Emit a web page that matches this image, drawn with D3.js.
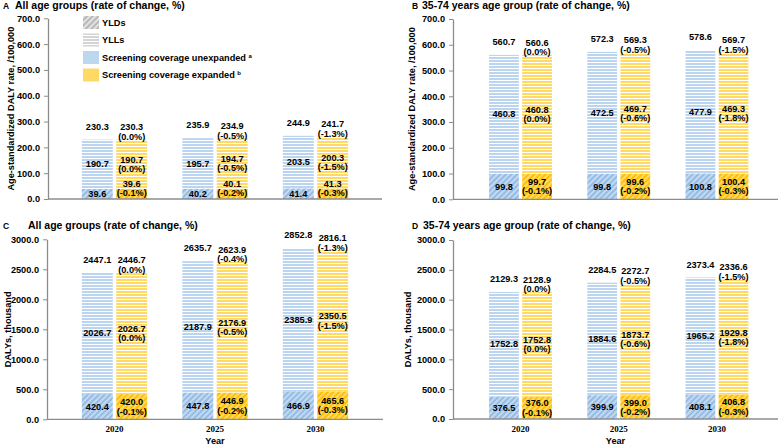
<!DOCTYPE html>
<html><head><meta charset="utf-8">
<script src="https://cdn.jsdelivr.net/npm/d3@7"></script>
<style>
body{margin:0;background:#fff;}
svg text{font-family:"Liberation Sans",Arial,sans-serif;font-weight:bold;fill:#000;}
</style></head>
<body><svg id="c" width="783" height="447"></svg>
<script>
const years = ['2020','2025','2030'];

// Panel A: age-standardized DALY rate, all ages
const aUnexpTotal = [230.3, 235.9, 244.9];
const aUnexpYLL   = [190.7, 195.7, 203.5];
const aUnexpYLD   = [39.6, 40.2, 41.4];
const aExpTotal   = [230.3, 234.9, 241.7];
const aExpTotalPct= [0.0, -0.5, -1.3];
const aExpYLL     = [190.7, 194.7, 200.3];
const aExpYLLPct  = [0.0, -0.5, -1.5];
const aExpYLD     = [39.6, 40.1, 41.3];
const aExpYLDPct  = [-0.1, -0.2, -0.3];

// Panel B: age-standardized DALY rate, 35-74
const bUnexpTotal = [560.7, 572.3, 578.6];
const bUnexpYLL   = [460.8, 472.5, 477.9];
const bUnexpYLD   = [99.8, 99.8, 100.8];
const bExpTotal   = [560.6, 569.3, 569.7];
const bExpTotalPct= [0.0, -0.5, -1.5];
const bExpYLL     = [460.8, 469.7, 469.3];
const bExpYLLPct  = [0.0, -0.6, -1.8];
const bExpYLD     = [99.7, 99.6, 100.4];
const bExpYLDPct  = [-0.1, -0.2, -0.3];

// Panel C: DALYs (thousand), all ages
const cUnexpTotal = [2447.1, 2635.7, 2852.8];
const cUnexpYLL   = [2026.7, 2187.9, 2385.9];
const cUnexpYLD   = [420.4, 447.8, 466.9];
const cExpTotal   = [2446.7, 2623.9, 2816.1];
const cExpTotalPct= [0.0, -0.4, -1.3];
const cExpYLL     = [2026.7, 2176.9, 2350.5];
const cExpYLLPct  = [0.0, -0.5, -1.5];
const cExpYLD     = [420.0, 446.9, 465.6];
const cExpYLDPct  = [-0.1, -0.2, -0.3];

// Panel D: DALYs (thousand), 35-74
const dUnexpTotal = [2129.3, 2284.5, 2373.4];
const dUnexpYLL   = [1752.8, 1884.6, 1965.2];
const dUnexpYLD   = [376.5, 399.9, 408.1];
const dExpTotal   = [2128.9, 2272.7, 2336.6];
const dExpTotalPct= [0.0, -0.5, -1.5];
const dExpYLL     = [1752.8, 1873.7, 1929.8];
const dExpYLLPct  = [0.0, -0.6, -1.8];
const dExpYLD     = [376.0, 399.0, 406.8];
const dExpYLDPct  = [-0.1, -0.2, -0.3];

const rateTicks  = [0,100,200,300,400,500,600,700];
const countTicks = [0,500,1000,1500,2000,2500,3000];

const svg = d3.select('#c');
const defs = svg.append('defs');

function hPattern(id, base){
  const p = defs.append('pattern').attr('id',id).attr('patternUnits','userSpaceOnUse')
    .attr('width',4).attr('height',3);
  p.append('rect').attr('width',4).attr('height',3).attr('fill',base);
  p.append('rect').attr('y',2).attr('width',4).attr('height',1).attr('fill','#ffffff');
}
function dPattern(id, light, dark){
  const p = defs.append('pattern').attr('id',id).attr('patternUnits','userSpaceOnUse')
    .attr('width',4).attr('height',4).attr('patternTransform','rotate(45)');
  p.append('rect').attr('width',4).attr('height',4).attr('fill',light);
  p.append('rect').attr('width',2).attr('height',4).attr('fill',dark);
}
hPattern('blueH','#BBD4EF');
hPattern('yelH','#FFD966');
hPattern('grayH','#D4D4D4');
dPattern('blueD','#C3D9F1','#95BCE4');
dPattern('yelD','#FFDA6A','#FFC000');
dPattern('grayD','#E2E2E2','#B8B8B8');

const fmt = v => v.toFixed(1);
const pct = v => '(' + v.toFixed(1) + '%)';
const LBL = '9.2px';

function panel(cfg){
  const g = svg.append('g');
  const y = d3.scaleLinear().domain([0, cfg.ymax]).range([cfg.y0, cfg.y1]);
  const x = d3.scaleBand().domain(years).range(cfg.band).paddingInner(cfg.pi).paddingOuter(cfg.pi/2);
  const xs = d3.scaleBand().domain(['un','ex']).range([0, x.bandwidth()]).paddingInner(0.1);

  // y axis
  const ya = g.append('g').attr('transform',`translate(${cfg.ax},0)`)
    .call(d3.axisLeft(y).tickValues(cfg.ticks).tickFormat(d=>d.toFixed(1)).tickSize(4).tickPadding(4).tickSizeOuter(0));
  ya.selectAll('text').style('font-size','9.2px').attr('fill','#000');
  ya.selectAll('line').attr('stroke','#8c8c8c');
  ya.select('.domain').attr('stroke','#8c8c8c').attr('stroke-width',1.3);

  const bars = [];
  years.forEach((yr,i)=>{
    bars.push({yr, s:'un', yld:cfg.uYLD[i], tot:cfg.uTot[i]});
    bars.push({yr, s:'ex', yld:cfg.eYLD[i], tot:cfg.eTot[i]});
  });
  // YLD
  g.selectAll('.yld').data(bars).enter().append('rect')
    .attr('x',d=>x(d.yr)+xs(d.s)).attr('width',xs.bandwidth())
    .attr('y',d=>y(d.yld)).attr('height',d=>y(0)-y(d.yld))
    .attr('fill',d=>d.s==='un'?'url(#blueD)':'url(#yelD)');
  // YLL
  g.selectAll('.yll').data(bars).enter().append('rect')
    .attr('x',d=>x(d.yr)+xs(d.s)).attr('width',xs.bandwidth())
    .attr('y',d=>y(d.tot)).attr('height',d=>y(d.yld)-y(d.tot))
    .attr('fill',d=>d.s==='un'?'url(#blueH)':'url(#yelH)');

  // x axis line
  g.append('line').attr('x1',cfg.ax).attr('x2',cfg.axEnd).attr('y1',y(0)).attr('y2',y(0))
    .attr('stroke','#8c8c8c').attr('stroke-width',1.3);

  const lbl = (cx, cy, t) => g.append('text').attr('x',cx).attr('y',cy).attr('dy','0.35em')
    .attr('text-anchor','middle').style('font-size',LBL).text(t);

  years.forEach((yr,i)=>{
    const cu = x(yr)+xs('un')+xs.bandwidth()/2;
    const ce = x(yr)+xs('ex')+xs.bandwidth()/2;
    // totals
    lbl(cu, y(cfg.uTot[i]) - 13, fmt(cfg.uTot[i]));
    lbl(ce, y(cfg.eTot[i]) - 12.5, fmt(cfg.eTot[i]));
    lbl(ce, y(cfg.eTot[i]) - 2.8, pct(cfg.eTotPct[i]));
    // YLL
    const mu = (y(cfg.uYLD[i]) + y(cfg.uTot[i]))/2;
    lbl(cu, mu, fmt(cfg.uYLL[i]));
    const me = (y(cfg.eYLD[i]) + y(cfg.eTot[i]))/2;
    lbl(ce, me - 4.7, fmt(cfg.eYLL[i]));
    lbl(ce, me + 4.7, pct(cfg.eYLLPct[i]));
    // YLD
    const du = Math.min((y(cfg.uYLD[i]) + y(0))/2, y(0)-5);
    lbl(cu, du, fmt(cfg.uYLD[i]));
    const de = Math.min((y(cfg.eYLD[i]) + y(0))/2, y(0)-10.5);
    lbl(ce, de - 4.7, fmt(cfg.eYLD[i]));
    lbl(ce, de + 4.7, pct(cfg.eYLDPct[i]));
  });

  // x tick labels
  if (cfg.showYears){
    years.forEach(yr=>{
      g.append('text').attr('x',x(yr)+x.bandwidth()/2).attr('y',y(0)+10).attr('dy','0.35em')
        .attr('text-anchor','middle').style('font-family','"Liberation Serif","Times New Roman",serif')
        .style('font-size','9px').text(yr);
    });
    g.append('text').attr('x',(cfg.ax+cfg.axEnd)/2).attr('y',y(0)+21.5).attr('dy','0.35em')
      .attr('text-anchor','middle').style('font-size','9.2px').text('Year');
  }
  // y title
  g.append('text').attr('transform',`translate(${cfg.ytx},${(cfg.y0+cfg.y1)/2}) rotate(-90)`)
    .attr('text-anchor','middle').attr('dy','0.35em').style('font-size','9.2px').text(cfg.ytitle);
  // panel title
  g.append('text').attr('x',cfg.lx).attr('y',cfg.ty).style('font-size','8.5px').text(cfg.letter);
  g.append('text').attr('x',cfg.tx).attr('y',cfg.ty).style('font-size','10.5px').text(cfg.title);
}

panel({letter:'A', title:'All age groups (rate of change, %)', lx:3, tx:15, ty:9,
  ymax:700, y0:199, y1:18.3, ticks:rateTicks, ax:48, axEnd:382, band:[64.25,365.75], pi:0.35,
  uTot:aUnexpTotal,uYLL:aUnexpYLL,uYLD:aUnexpYLD,eTot:aExpTotal,eTotPct:aExpTotalPct,
  eYLL:aExpYLL,eYLLPct:aExpYLLPct,eYLD:aExpYLD,eYLDPct:aExpYLDPct,
  ytitle:'Age-standardized DALY rate, /100,000', ytx:11, showYears:false});
panel({letter:'B', title:'35-74 years age group (rate of change, %)', lx:412, tx:422, ty:9,
  ymax:700, y0:199.3, y1:19, ticks:rateTicks, ax:453, axEnd:778, band:[471.4,766.1], pi:0.36,
  uTot:bUnexpTotal,uYLL:bUnexpYLL,uYLD:bUnexpYLD,eTot:bExpTotal,eTotPct:bExpTotalPct,
  eYLL:bExpYLL,eYLLPct:bExpYLLPct,eYLD:bExpYLD,eYLDPct:bExpYLDPct,
  ytitle:'Age-standardized DALY rate, /100,000', ytx:412, showYears:false});
panel({letter:'C', title:'All age groups (rate of change, %)', lx:3, tx:28, ty:229,
  ymax:3000, y0:419.3, y1:239.3, ticks:countTicks, ax:47, axEnd:383, band:[64.25,365.75], pi:0.35,
  uTot:cUnexpTotal,uYLL:cUnexpYLL,uYLD:cUnexpYLD,eTot:cExpTotal,eTotPct:cExpTotalPct,
  eYLL:cExpYLL,eYLLPct:cExpYLLPct,eYLD:cExpYLD,eYLDPct:cExpYLDPct,
  ytitle:'DALYs, thousand', ytx:8, showYears:true});
panel({letter:'D', title:'35-74 years age group (rate of change, %)', lx:412, tx:423, ty:229,
  ymax:3000, y0:419, y1:240, ticks:countTicks, ax:453, axEnd:778, band:[471.4,766.1], pi:0.36,
  uTot:dUnexpTotal,uYLL:dUnexpYLL,uYLD:dUnexpYLD,eTot:dExpTotal,eTotPct:dExpTotalPct,
  eYLL:dExpYLL,eYLLPct:dExpYLLPct,eYLD:dExpYLD,eYLDPct:dExpYLDPct,
  ytitle:'DALYs, thousand', ytx:408, showYears:true});

// legend
const legendItems = [
  {fill:'url(#grayD)', text:'YLDs', sup:''},
  {fill:'url(#grayH)', text:'YLLs', sup:''},
  {fill:'#BDD7EE', text:'Screening coverage unexpanded ', sup:'a'},
  {fill:'#FFD966', text:'Screening coverage expanded ', sup:'b'}
];
const lg = svg.append('g');
const ly = [22.5, 40, 57.5, 75];
legendItems.forEach((it,i)=>{
  lg.append('rect').attr('x',83).attr('y',ly[i]-6.5).attr('width',16).attr('height',13).attr('fill',it.fill);
  const t = lg.append('text').attr('x',102).attr('y',ly[i]).attr('dy','0.35em').style('font-size','9.2px');
  t.append('tspan').text(it.text);
  if (it.sup) t.append('tspan').attr('dy','-3').style('font-size','6px').text(it.sup);
});
</script></body></html>
